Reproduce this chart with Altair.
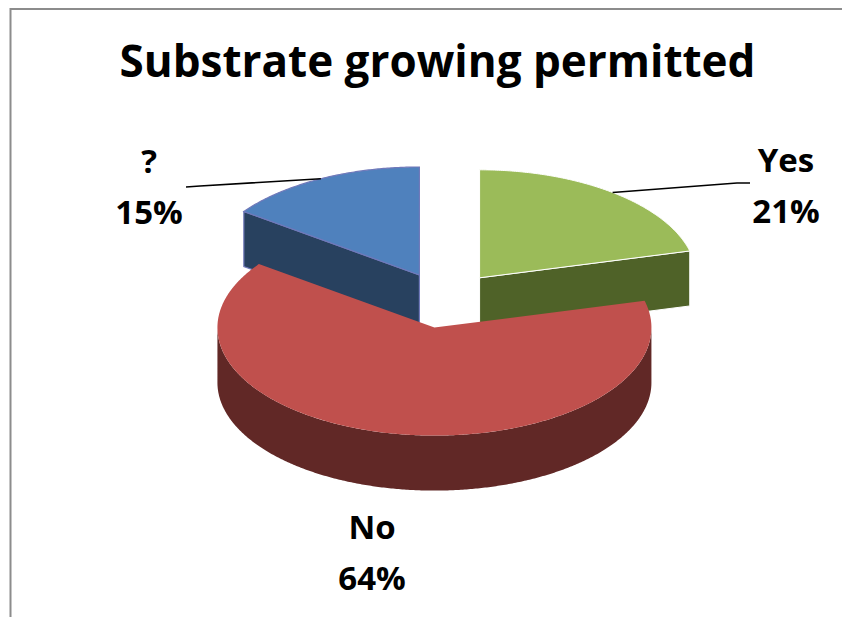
import math
import altair as alt
import pandas as pd

# ---------------- data ----------------
categories = ["Yes", "No", "?"]
percents = [21, 64, 15]
pct_labels = ["21%", "64%", "15%"]
title_text = "Substrate growing permitted"

# ---------------- styles ----------------
top_colors = ["#9BBB59", "#C0504D", "#4F81BD"]
side_colors = ["#4F6228", "#612826", "#28415F"]
edge_colors = ["#FFFFFF", "#C0504D", "#7079BA"]
edge_widths = [1.0, 0.0, 1.2]
FONT = "Open Sans"

# ---------------- layout (page pixels) ----------------
CX, CY = 445.0, 300.0        # centre of the un-exploded pie top face
RX, RY = 217.0, 108.0        # ellipse radii of the tilted pie
DEPTH = 55.0                 # thickness of the 3-D pie
EXPLODE = 0.26               # explosion, fraction of the radius
label_anchor = {"Yes": (786, 172), "No": (372, 539), "?": (149, 173)}
leader_end = {"Yes": [(737, 183), (750, 183)], "?": [(200, 186), (186, 187)]}
LINE_GAP = 51

# ---------------- geometry computed from the values ----------------
total = float(sum(percents))
starts, ends = [], []
acc = 0.0
for v in percents:
    starts.append(acc / total * 360.0)
    acc += v
    ends.append(acc / total * 360.0)


def rim(vx, vy, deg):
    t = math.radians(deg)
    return [vx + RX * math.sin(t), vy - RY * math.cos(t)]


def arc(vx, vy, a, b):
    n = max(2, int(abs(b - a) * 2) + 1)
    return [rim(vx, vy, a + (b - a) * i / (n - 1)) for i in range(n)]


def down(p):
    return [p[0], p[1] + DEPTH]


slices = []
for i, cat in enumerate(categories):
    a, b = starts[i], ends[i]
    mid = math.radians((a + b) / 2)
    vx = CX + EXPLODE * RX * math.sin(mid)
    vy = CY - EXPLODE * RY * math.cos(mid)
    slices.append((vy, i, vx, a, b))
slices.sort()  # back to front

features = []
leaders = []


def add_poly(ring, fill, stroke, sw):
    ring = ring + [ring[0]]
    features.append({
        "type": "Feature",
        "geometry": {"type": "Polygon", "coordinates": [ring]},
        "properties": {"fill": fill, "stroke": stroke, "sw": sw},
    })


for vy, i, vx, a, b in slices:
    V = [vx, vy]
    side, top = side_colors[i], top_colors[i]
    ec, ew = edge_colors[i], edge_widths[i]
    sc = ec if ew > 0 else side
    # outer curved wall, visible part only (front half of the ellipse)
    lo, hi = max(a, 90.0), min(b, 270.0)
    if hi > lo:
        pts = arc(vx, vy, lo, hi)
        add_poly(pts + [down(p) for p in reversed(pts)], side, sc, ew)
    # radial cut walls
    if math.cos(math.radians(a - 90)) < -1e-6:
        p = rim(vx, vy, a)
        add_poly([V, p, down(p), down(V)], side, sc, ew)
    if math.cos(math.radians(b + 90)) < -1e-6:
        p = rim(vx, vy, b)
        add_poly([V, p, down(p), down(V)], side, sc, ew)
    # top face
    add_poly([V] + arc(vx, vy, a, b), top, ec if ew > 0 else top, ew)
    # leader line from the rim at the slice middle
    cat = categories[i]
    if cat in leader_end:
        leaders.append({
            "type": "Feature",
            "geometry": {"type": "LineString",
                         "coordinates": [rim(vx, vy, (a + b) / 2)] + [list(q) for q in leader_end[cat]]},
            "properties": {},
        })

borders = [
    {"type": "Feature", "geometry": {"type": "LineString",
                                     "coordinates": [[10.5, 850], [10.5, 9], [850, 9]]},
     "properties": {}},
]

label_rows = []
for i, cat in enumerate(categories):
    x, y = label_anchor[cat]
    label_rows.append({"t": cat, "lx": x, "ly": y})
    label_rows.append({"t": pct_labels[i], "lx": x, "ly": y + LINE_GAP})
labels_df = pd.DataFrame(label_rows)
title_df = pd.DataFrame([{"t": title_text, "lx": 437.5, "ly": 77}])

pie = alt.Chart(alt.Data(values=features)).mark_geoshape().encode(
    fill=alt.Fill("properties.fill:N", scale=None),
    stroke=alt.Stroke("properties.stroke:N", scale=None),
    strokeWidth=alt.StrokeWidth("properties.sw:Q", scale=None),
)

lead = alt.Chart(alt.Data(values=leaders)).mark_geoshape(
    filled=False, stroke="#000000", strokeWidth=1.6
)

border = alt.Chart(alt.Data(values=borders)).mark_geoshape(
    filled=False, stroke="#8C8C8C", strokeWidth=2
)

labels = alt.Chart(labels_df).mark_text(
    font=FONT, fontSize=33, fontWeight="bold", color="#000000",
    align="center", baseline="alphabetic"
).encode(longitude="lx:Q", latitude="ly:Q", text="t:N")

title = alt.Chart(title_df).mark_text(
    font=FONT, fontSize=44, fontWeight="bold", color="#000000",
    align="center", baseline="alphabetic"
).encode(longitude="lx:Q", latitude="ly:Q", text="t:N")

chart = alt.layer(border, pie, lead, labels, title).project(
    type="identity", scale=1, translate=[-8, -8]
).properties(
    width=834, height=609, padding=0,
    autosize=alt.AutoSizeParams(type="none"),
    background="#FFFFFF",
).configure_view(stroke=None)

chart.save("out.html", embed_options={"renderer": "svg", "actions": False})
